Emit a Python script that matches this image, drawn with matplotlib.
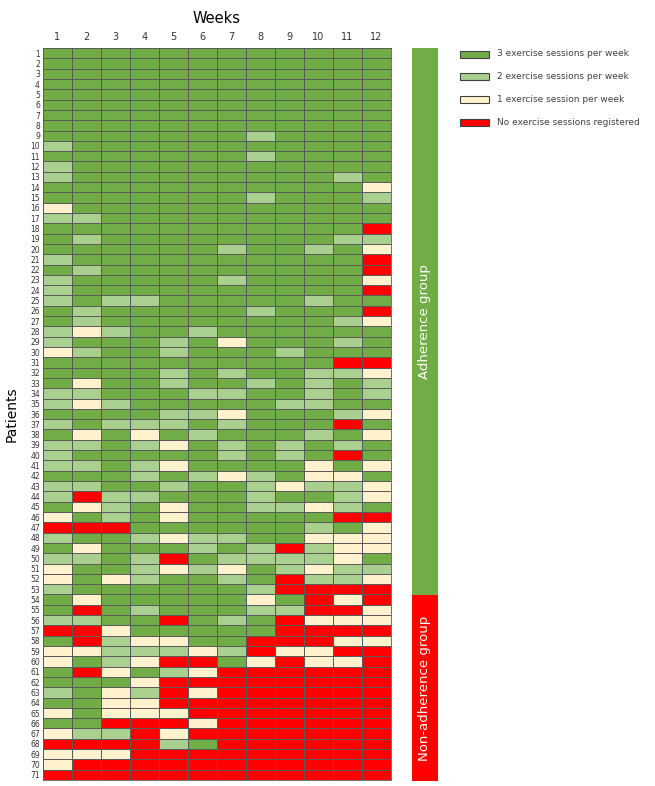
import numpy as np
import matplotlib.pyplot as plt
from matplotlib.colors import ListedColormap, BoundaryNorm
from matplotlib.patches import Rectangle

# sessions per week for each patient (0 = none registered, 3 = three sessions)
weeks = list(range(1, 13))
patients = list(range(1, 72))
sessions = [
    "333333333333", "333333333333", "333333333333", "333333333333",
    "333333333333", "333333333333", "333333333333", "333333333333",
    "333333323333", "233333333333", "333333323333", "233333333333",
    "233333333323", "333333333331", "333333323332", "133333333333",
    "223333333333", "333333333330", "323333333322", "333333233231",
    "233333333330", "323333333330", "233333233331", "233333333330",
    "232233333233", "323333323330", "323333333321", "212332333333",
    "233323133323", "123323332333", "333333333300", "333323233221",
    "313323323232", "223332233232", "212333332233", "333322133321",
    "232223233303", "313132333231", "223213232323", "233333232303",
    "223213333131", "333232123113", "223323321221", "202233323321",
    "312313322123", "132313333300", "000333333231", "233212233111",
    "313332320211", "223203222213", "133212132122", "131233230221",
    "233333320000", "313333313010", "303233322001", "223303230111",
    "001333330000", "302113300011", "112221201100", "132100310110",
    "301321000000", "333100000000", "231201000000", "331100000000",
    "131110000000", "330001000000", "122010000000", "000023000000",
    "111000000000", "100000000000", "000000000000",
]
level_colors = ["#FF0000", "#FFF2CC", "#A9D08E", "#70AD47"]
level_names = ["No exercise sessions registered", "1 exercise session per week",
               "2 exercise sessions per week", "3 exercise sessions per week"]
groups = ["Adherence group", "Non-adherence group"]
group_sizes = [53, 18]
group_colors = ["#70AD47", "#FF0000"]

data = np.array([[int(c) for c in row] for row in sessions])

fig = plt.figure(figsize=(6.55, 7.86), dpi=100)
ax = fig.add_axes([0.0652, 0.0076, 0.5313, 0.9313])

cmap = ListedColormap(level_colors)
norm = BoundaryNorm([-0.5, 0.5, 1.5, 2.5, 3.5], cmap.N)
ax.pcolormesh(np.arange(len(weeks) + 1), np.arange(len(patients) + 1), data,
              cmap=cmap, norm=norm, edgecolors="#5a5a5a", linewidth=0.6)
ax.set_xlim(0, len(weeks))
ax.set_ylim(len(patients), 0)
ax.set_xticks(np.arange(len(weeks)) + 0.5)
ax.set_xticklabels(weeks, fontsize=7, color="#333333")
ax.set_yticks(np.arange(len(patients)) + 0.5)
ax.set_yticklabels(patients, fontsize=5.5, color="#333333")
ax.xaxis.tick_top()
ax.tick_params(length=0, pad=2)
ax.tick_params(axis="x", pad=4)
for s in ax.spines.values():
    s.set_color("#5a5a5a")
    s.set_linewidth(0.6)
ax.set_title("Weeks", fontsize=10.5, pad=18)
ax.set_ylabel("Patients", fontsize=10, labelpad=8)

# group bar on the right
gax = fig.add_axes([0.629, 0.0064, 0.0397, 0.9325])
gax.set_xlim(0, 1)
gax.set_ylim(len(patients), 0)
gax.axis("off")
start = 0
for name, size, col in zip(groups, group_sizes, group_colors):
    gax.add_patch(Rectangle((0, start), 1, size, facecolor=col, edgecolor="none"))
    gax.text(0.5, start + size / 2, name, rotation=90, ha="center", va="center",
             color="white", fontsize=9.5)
    start += size

# legend
for i, (col, name) in enumerate(zip(level_colors[::-1], level_names[::-1])):
    y = 1 - (54 + i * 22.7) / 786
    fig.patches.append(Rectangle((460 / 655, y - 3.5 / 786), 29 / 655, 7 / 786,
                                 transform=fig.transFigure, facecolor=col,
                                 edgecolor="#404040", linewidth=0.8))
    fig.text(497 / 655, y, name, fontsize=6.5, color="#404040", va="center")

plt.savefig("out.png", dpi=100)
